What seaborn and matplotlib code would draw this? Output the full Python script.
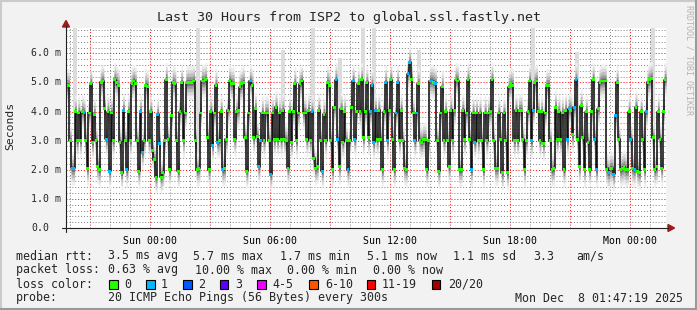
import numpy as np
import pandas as pd
import matplotlib
matplotlib.use("Agg")
import matplotlib.pyplot as plt
import matplotlib.transforms as mtransforms
from matplotlib.patches import Rectangle, Polygon
from matplotlib.lines import Line2D
import seaborn as sns
from datetime import datetime, timedelta

# ---------------- data ----------------
title = "Last 30 Hours from ISP2 to global.ssl.fastly.net"
end_time = datetime(2025, 12, 8, 1, 47, 19)
span_hours = 30

# median rtt in ms, six consecutive chunks of the 30 h window
seg1_ms = [4.9, 4.9, 3.0, 2.05, 2.05, 4.0, 3.0, 3.95, 3.0, 4.0, 3.95, 3.0, 2.05, 3.95, 4.95, 2.95, 3.9, 3.0,
           2.1, 2.0, 5.0, 5.05, 4.1, 3.05, 4.0, 1.95, 3.95, 3.0, 5.1, 5.0, 4.9, 2.95, 1.9, 4.05, 3.0, 2.0, 4.0,
           3.0, 4.95, 5.05, 4.95, 3.0, 1.95, 4.0, 2.6, 3.0, 4.9, 4.85, 3.0, 4.0, 2.65, 2.35, 1.75, 3.9]
seg2_ms = [2.9, 1.75, 1.9, 3.0, 5.1, 3.05, 2.0, 3.85, 5.0, 4.95, 3.0, 1.95, 4.0, 5.0, 3.0, 3.95, 5.0, 5.0,
           5.0, 5.0, 5.05, 3.0, 2.0, 2.05, 3.95, 5.05, 5.05, 5.1, 3.1, 2.0, 4.0, 2.85, 3.95, 4.9, 2.95, 3.0,
           4.0, 2.0, 2.05, 3.05, 4.05, 5.05, 4.95, 4.95, 3.05, 4.0, 4.05, 4.85, 4.95, 5.0, 3.1, 1.95, 3.95,
           5.05, 4.9, 3.1, 4.1, 3.15]
seg3_ms = [2.1, 3.0, 3.95, 3.0, 3.95, 3.95, 3.0, 1.85, 3.95, 3.05, 4.15, 3.05, 3.95, 3.05, 4.05, 3.05, 3.0,
           2.05, 4.0, 2.95, 4.0, 4.95, 3.0, 3.95, 4.95, 5.05, 3.95, 3.95, 3.05, 4.05, 3.0, 4.0, 2.4, 2.05,
           2.1, 4.05, 3.0, 1.95, 3.9, 3.0, 5.0, 4.9, 3.0, 2.0, 4.15, 5.1, 3.05, 2.1, 4.1, 2.95, 4.0, 3.0,
           2.0, 3.0, 4.15, 5.05, 3.05, 4.0, 4.95, 4.0]
seg4_ms = [5.1, 3.1, 4.0, 5.0, 3.1, 4.0, 4.9, 2.95, 4.05, 3.05, 4.05, 3.05, 2.0, 4.0, 5.0, 3.0, 4.05, 5.1,
           3.05, 2.0, 3.95, 5.0, 3.0, 4.05, 3.0, 2.05, 2.0, 5.3, 5.7, 5.1, 3.95, 3.0, 3.95, 4.95, 3.0, 2.95,
           3.05, 3.05, 2.0, 3.0, 5.05, 5.05, 5.0, 4.95, 3.0, 1.95, 3.95, 4.85, 3.0, 4.0, 3.0, 2.1, 4.05,
           3.0, 4.05, 5.1, 5.05, 2.0, 2.0]
seg5_ms = [4.05, 3.05, 3.95, 5.1, 3.05, 2.0, 3.95, 2.95, 3.95, 3.0, 3.95, 3.0, 2.0, 3.95, 3.0, 3.95, 4.0,
           5.1, 3.0, 2.05, 2.05, 3.95, 3.05, 1.9, 3.95, 3.0, 1.9, 4.85, 4.95, 4.9, 3.0, 4.05, 3.0, 4.05,
           4.05, 3.05, 2.0, 3.0, 4.0, 5.05, 3.0, 4.05, 5.0, 5.05, 4.0, 3.0, 4.0, 2.9, 3.95, 4.9, 4.9, 3.0,
           2.0, 2.05, 4.15, 3.05, 4.0, 3.05, 3.95]
seg6_ms = [2.0, 4.05, 3.05, 4.1, 4.05, 3.2, 4.15, 5.1, 3.05, 2.1, 4.2, 3.1, 2.0, 4.0, 2.95, 2.0, 4.0, 5.1,
           3.05, 2.0, 4.1, 5.0, 5.05, 5.05, 5.05, 2.0, 1.9, 2.05, 2.05, 1.85, 3.85, 5.0, 3.05, 2.0, 2.05,
           2.1, 2.0, 2.0, 4.0, 3.05, 2.05, 2.0, 4.15, 1.95, 1.9, 4.0, 3.05, 2.0, 4.0, 5.0, 5.1, 5.15, 3.1,
           2.0, 2.1, 4.0, 3.05, 2.05, 4.0, 5.1]
# samples (index within chunk) that lost 1 of 20 pings (blue marks)
seg1_loss1 = [3, 4, 10, 23, 25, 33, 35, 43, 44, 53]
seg2_loss1 = [0, 31, 34, 37, 53]
seg3_loss1 = [0, 1, 7, 31, 37, 45, 46, 52, 55, 56]
seg4_loss1 = [5, 6, 7, 8, 14, 15, 20, 21, 27, 28, 31, 32, 40, 41, 43]
seg5_loss1 = [5, 7, 40, 41]
seg6_loss1 = [2, 3, 6, 7, 18, 19, 26, 29, 30, 39, 41, 48]

# light grey outliers (slowest ping) : hours since window start, ms
spike_hours = [0.45, 6.6, 10.85, 12.35, 13.7, 14.85, 15.4, 17.65, 23.35, 25.55, 29.35]
spike_max_ms = [6.9, 6.9, 6.1, 6.9, 5.85, 6.9, 6.9, 6.1, 6.9, 6.05, 6.9]

x_tick_labels = ["Sun 00:00", "Sun 06:00", "Sun 12:00", "Sun 18:00", "Mon 00:00"]
y_tick_values = [0, 1, 2, 3, 4, 5, 6]
y_tick_labels = ["0.0", "1.0 m", "2.0 m", "3.0 m", "4.0 m", "5.0 m", "6.0 m"]

rtt_labels = ["3.5 ms avg", "5.7 ms max", "1.7 ms min", "5.1 ms now", "1.1 ms sd", "3.3", "am/s"]
loss_labels = ["0.63 % avg", "10.00 % max", "0.00 % min", "0.00 % now"]
loss_color_names = ["0", "1", "2", "3", "4-5", "6-10", "11-19", "20/20"]
loss_color_values = ["#26ff00", "#00b8ff", "#0059ff", "#5e00ff", "#ee00ff", "#ff5500", "#ff0000", "#a00000"]
probe_text = "20 ICMP Echo Pings (56 Bytes) every 300s"
date_text = "Mon Dec  8 01:47:19 2025"

# ---------------- assemble ----------------
segs = [seg1_ms, seg2_ms, seg3_ms, seg4_ms, seg5_ms, seg6_ms]
losses = [seg1_loss1, seg2_loss1, seg3_loss1, seg4_loss1, seg5_loss1, seg6_loss1]
median = []
lossflag = []
for s, l in zip(segs, losses):
    f = [0] * len(s)
    for i in l:
        f[i] = 1
    median += s
    lossflag += f
median = np.array(median)
N = len(median)
step = span_hours / N
t = np.arange(N) * step
t_ext = np.append(t, span_hours)
m_ext = np.append(median, median[-1])
df = pd.DataFrame({"t": t + step / 2, "ms": median,
                   "loss": [loss_color_names[k] for k in lossflag]})

start_time = end_time - timedelta(hours=span_hours)
def hours_of(dt):
    return (dt - start_time).total_seconds() / 3600.0
first_hour = start_time.replace(minute=0, second=0) + timedelta(hours=1)
hour_marks = [hours_of(first_hour + timedelta(hours=k)) for k in range(31)]
hour_marks = [h for h in hour_marks if 0 <= h <= span_hours]
clock = [(first_hour + timedelta(hours=k)).hour for k in range(len(hour_marks))]
major3 = [h for h, c in zip(hour_marks, clock) if c % 3 == 0]
major3_clock = [c for c in clock if c % 3 == 0]
major_lbl = []
j = 0
for c in major3_clock:
    if c % 6 == 0:
        major_lbl.append(x_tick_labels[j]); j += 1
    else:
        major_lbl.append("")

# ---------------- figure ----------------
W, H = 697, 310
def fx(x): return x / W
def fy(y): return 1 - y / H

sns.set_style("white")
plt.rcParams["font.family"] = ["DejaVu Sans Mono", "DejaVu Sans"]
BG = "#f2f2f2"
fig = plt.figure(figsize=(W / 100, H / 100), dpi=100, facecolor=BG)
ax = fig.add_axes([fx(66), fy(228), 600 / W, 200 / H])
ax.set_facecolor("white")
ax.set_xlim(0, span_hours)
ax.set_ylim(0, 6.87)
for sp in ax.spines.values():
    sp.set_visible(False)

ax.set_xticks(major3)
ax.set_xticklabels(major_lbl)
ax.set_xticks(hour_marks, minor=True)
ax.set_yticks(y_tick_values)
ax.set_yticklabels([])
ax.set_yticks(np.arange(0, 6.87, 0.2), minor=True)
ax.tick_params(axis="x", which="major", direction="out", length=3, width=0.7,
               labelsize=7.1, pad=2.5, colors="black")
ax.tick_params(axis="x", which="minor", direction="out", length=2, width=0.7)
ax.tick_params(axis="y", which="major", direction="out", length=3, width=0.7)
ax.tick_params(axis="y", which="minor", length=0)
ax.set_axisbelow(True)
ax.grid(which="major", color=(1, 0, 0, 0.22), ls=(0, (1, 2)), lw=0.7)
ax.grid(which="minor", color=(0.5, 0.5, 0.5, 0.28), ls=(0, (1, 2)), lw=0.7)

# smoke spikes (slowest pings)
for h, mx in zip(spike_hours, spike_max_ms):
    i = min(int(h / step), N - 1)
    ax.bar(h, mx - median[i], bottom=median[i], width=0.17, color="#dcdcdc",
           linewidth=0, zorder=1.2)

# smoke bands
bands = [(0.58, "#eeeeee"), (0.44, "#d9d9d9"), (0.32, "#bdbdbd"), (0.2, "#999999"), (0.1, "#6e6e6e")]
for d, c in bands:
    ax.fill_between(t_ext, m_ext - d, m_ext + d, step="post", color=c, linewidth=0, zorder=1.5)

# median line
sns.lineplot(x=t_ext, y=m_ext, drawstyle="steps-post", color="#111111", lw=1.15,
             estimator=None, sort=False, ax=ax, zorder=3)
# loss-coloured median marks
sns.scatterplot(data=df, x="t", y="ms", hue="loss",
                palette={"0": loss_color_values[0], "1": loss_color_values[1]},
                marker="s", s=4.5, linewidth=0, legend=False, ax=ax, zorder=4)
ax.set_xlabel("")
ax.set_ylabel("")

# y tick labels (left aligned, rrdtool style)
tr = mtransforms.blended_transform_factory(fig.transFigure, ax.transData)
for v, lab in zip(y_tick_values, y_tick_labels):
    ax.text(fx(31), v, lab, transform=tr, ha="left", va="center", fontsize=7.1)

fig.text(fx(10), fy(126), "Seconds", rotation=90, ha="center", va="center", fontsize=8.2)
fig.text(fx(349), fy(17), title, ha="center", va="center", fontsize=9.6)
fig.text(fx(689), fy(60), "RRDTOOL / TOBI OETIKER", rotation=270, ha="center", va="center",
         fontsize=6, color="#b4b4b4")

# axes lines and arrows
AX = "#202020"
AR = "#a01818"
fig.add_artist(Line2D([fx(62), fx(668)], [fy(228), fy(228)], color=AX, lw=0.8))
fig.add_artist(Line2D([fx(66), fx(66)], [fy(232), fy(26)], color=AX, lw=0.8))
fig.add_artist(Polygon([[fx(66), fy(20.5)], [fx(62.5), fy(27)], [fx(69.5), fy(27)]],
                       closed=True, color=AR, transform=fig.transFigure))
fig.add_artist(Polygon([[fx(674.5), fy(228)], [fx(668), fy(224.5)], [fx(668), fy(231.5)]],
                       closed=True, color=AR, transform=fig.transFigure))

# legend rows
FS = 8.35
fig.text(fx(16), fy(256), "median rtt:", ha="left", va="center", fontsize=FS)
for x, s in zip([108, 193, 280, 367, 453, 533, 576], rtt_labels):
    fig.text(fx(x), fy(256), s, ha="left", va="center", fontsize=FS)
fig.text(fx(16), fy(270), "packet loss:", ha="left", va="center", fontsize=FS)
for x, s in zip([108, 195, 287, 373], loss_labels):
    fig.text(fx(x), fy(270), s, ha="left", va="center", fontsize=FS)
fig.text(fx(16), fy(284), "loss color:", ha="left", va="center", fontsize=FS)
for xs, xl, s, c in zip([109, 146, 183, 220, 257, 309, 367, 432],
                        [124, 161, 198, 235, 272, 325, 382, 448],
                        loss_color_names, loss_color_values):
    fig.add_artist(Rectangle((fx(xs), fy(288.5)), 8.5 / W, 9 / H, transform=fig.transFigure,
                             facecolor=c, edgecolor="black", lw=0.8))
    fig.text(fx(xl), fy(284), s, ha="left", va="center", fontsize=FS)
fig.text(fx(16), fy(298), "probe:", ha="left", va="center", fontsize=FS)
fig.text(fx(108), fy(298), probe_text, ha="left", va="center", fontsize=FS)
fig.text(fx(683), fy(298), date_text, ha="right", va="center", fontsize=FS)

# frame (rrdtool shading)
fig.add_artist(Line2D([0, 1], [fy(0.7), fy(0.7)], color="#cbcbcb", lw=1.5))
fig.add_artist(Line2D([fx(0.7), fx(0.7)], [0, 1], color="#cbcbcb", lw=1.5))
fig.add_artist(Line2D([0, 1], [fy(309), fy(309)], color="#9a9a9a", lw=1.5))
fig.add_artist(Line2D([fx(696), fx(696)], [0, 1], color="#9a9a9a", lw=1.5))

fig.savefig("out.png", dpi=100, facecolor=BG)
